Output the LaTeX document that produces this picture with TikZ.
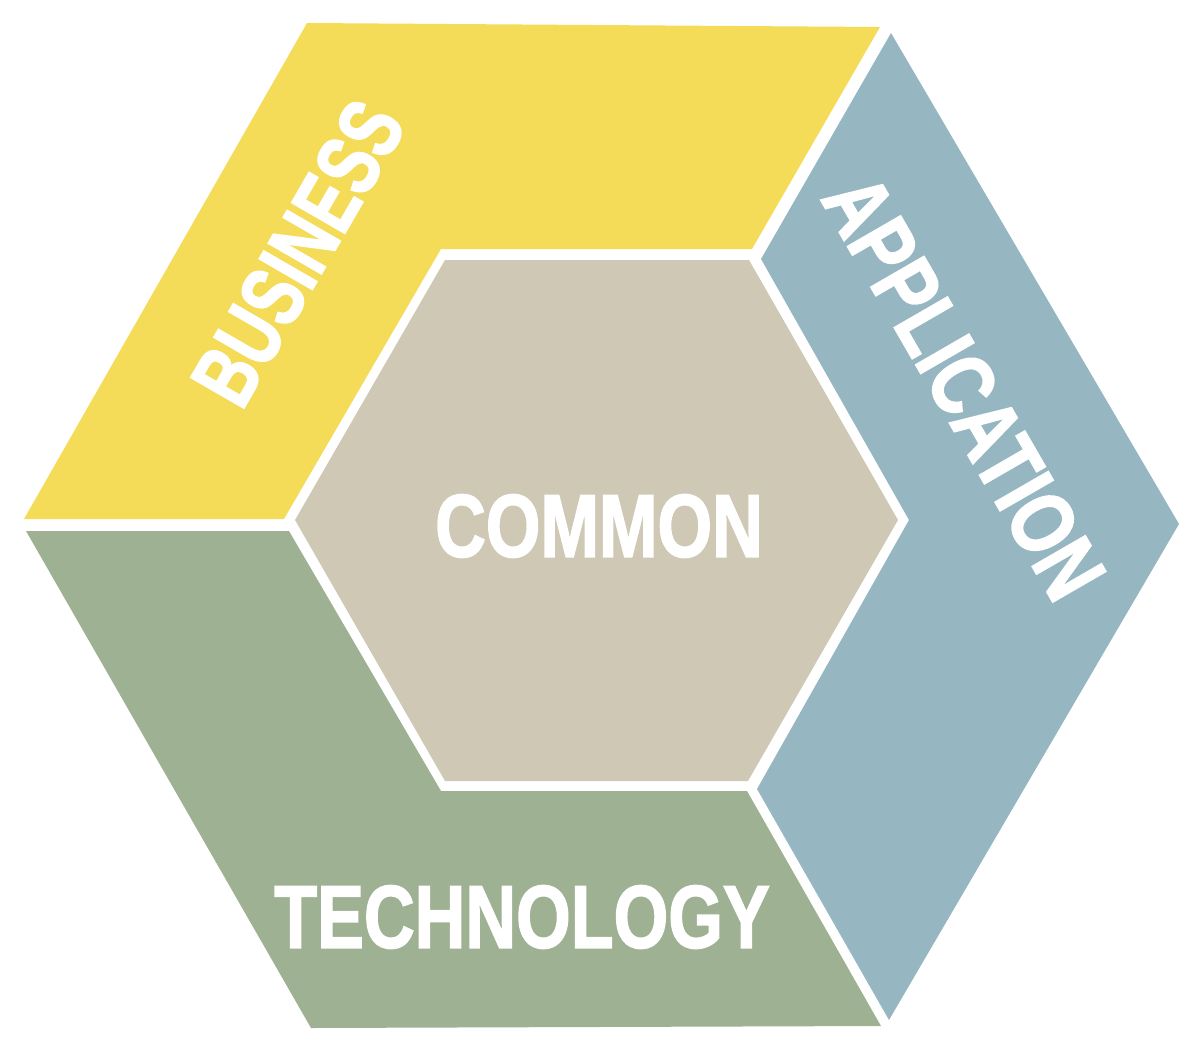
\documentclass[tikz,border=0pt]{standalone}
\usepackage{fontspec}
\usepackage{graphicx}
\setmainfont{Liberation Sans}[BoldFeatures={FakeBold=2}]
\definecolor{bizyellow}{HTML}{F4DC59}
\definecolor{appblue}{HTML}{96B7C2}
\definecolor{techgreen}{HTML}{9EB193}
\definecolor{commonbeige}{HTML}{CFC8B5}
\newcommand{\narrowlabel}[2][0.79]{\scalebox{#1}[1]{#2}}
\begin{document}
\begin{tikzpicture}[x=0.02cm,y=-0.02cm,
region/.style ={draw=none},
layer/.style ={text=white, inner sep=0pt,
  font=\bfseries\fontsize{50.6pt}{56pt}\selectfont
}]
\useasboundingbox (0,0) rectangle (1200,1048);
% outer layers
\fill[region, bizyellow] (307,23) -- (880,27) -- (752,249) -- (441,249)
  -- (284,519) -- (24,519) -- cycle;
\fill[region, appblue] (891,33) -- (1179,524) -- (889,1020) -- (757,789)
  -- (909,520) -- (761,259) -- cycle;
\fill[region, techgreen] (26,531) -- (289,531) -- (441,791) -- (747,791)
  -- (881,1026) -- (311,1028) -- cycle;
% inner hexagon
\fill[region, commonbeige] (445,260) -- (749,260) -- (898,520) -- (748,781)
  -- (445,781) -- (295,520) -- cycle;
% labels
\node (common) at (599,526) [layer] {\narrowlabel{COMMON}};
\node (technology) at (522,917) [layer] {\narrowlabel{TECHNOLOGY}};
\node (business) at (298,253) [layer, rotate=60] {\narrowlabel[0.73]{BUSINESS}};
\node (application) at (964,387) [layer, rotate=-60] {\narrowlabel{APPLICATION}};
\end{tikzpicture}
\end{document}
